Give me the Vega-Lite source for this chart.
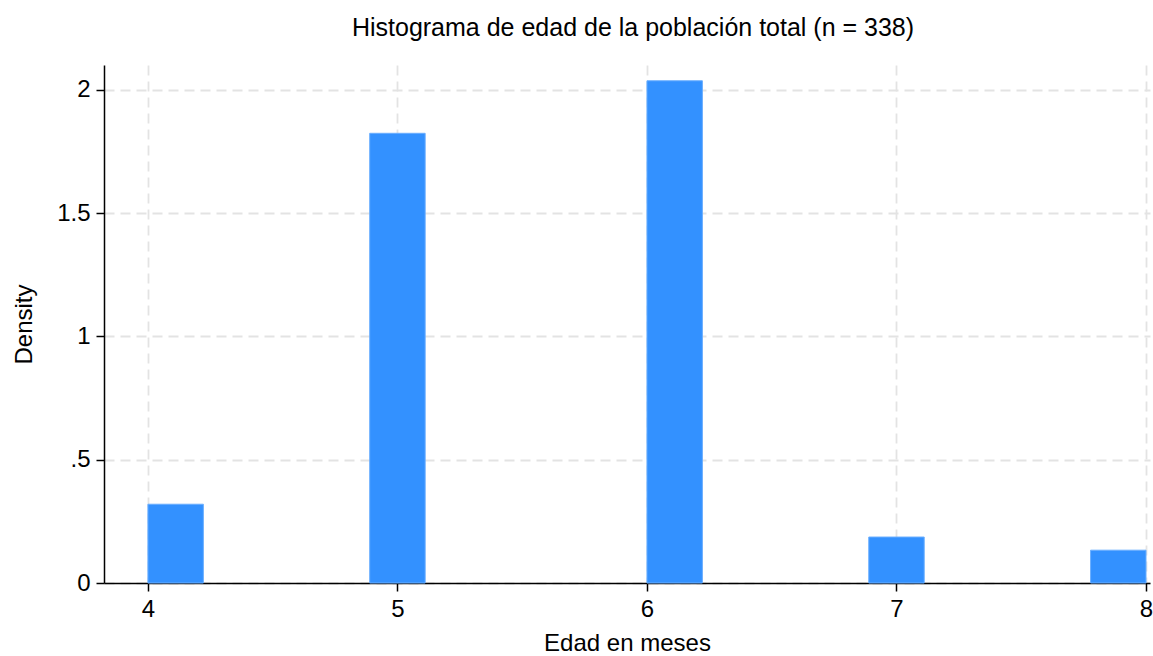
{
  "$schema": "https://vega.github.io/schema/vega-lite/v6.json",
  "width": 1046,
  "height": 518,
  "autosize": {"type": "none"},
  "padding": {"left": 104, "top": 65, "right": 3, "bottom": 73},
  "background": "white",
  "title": {
    "text": "Histograma de edad de la población total (n = 338)",
    "font": "Liberation Sans",
    "fontSize": 25,
    "fontWeight": "normal",
    "color": "#000000",
    "anchor": "middle",
    "offset": 24,
    "dx": 6
  },
  "config": {
    "view": {"stroke": null},
    "font": "Liberation Sans"
  },
  "data": {
    "values": [
      {"bin_start": 4.0, "bin_end": 4.2222, "density": 0.3195},
      {"bin_start": 4.8889, "bin_end": 5.1111, "density": 1.8240},
      {"bin_start": 6.0, "bin_end": 6.2222, "density": 2.0370},
      {"bin_start": 6.8889, "bin_end": 7.1111, "density": 0.1864},
      {"bin_start": 7.7778, "bin_end": 8.0, "density": 0.1331}
    ]
  },
  "mark": {"type": "bar", "fill": "#3391ff", "stroke": "#6aaeff", "strokeWidth": 1},
  "encoding": {
    "x": {
      "field": "bin_start",
      "type": "quantitative",
      "scale": {"domain": [3.824, 8.016], "nice": false, "zero": false},
      "axis": {
        "title": "Edad en meses",
        "values": [4, 5, 6, 7, 8],
        "format": "d",
        "labelFontSize": 24,
        "labelColor": "#000000",
        "labelPadding": 6,
        "titleFontSize": 24,
        "titleFontWeight": "normal",
        "titleColor": "#000000",
        "titlePadding": 10,
        "domainColor": "#000000",
        "domainWidth": 1.5,
        "tickColor": "#000000",
        "tickWidth": 1.5,
        "tickSize": 8,
        "grid": true,
        "gridColor": "#e3e3e3",
        "gridDash": [10, 6],
        "gridWidth": 1.8
      }
    },
    "x2": {"field": "bin_end"},
    "y": {
      "field": "density",
      "type": "quantitative",
      "scale": {"domain": [0, 2.101], "nice": false},
      "axis": {
        "title": "Density",
        "values": [0, 0.5, 1, 1.5, 2],
        "labelExpr": "datum.value == 0.5 ? '.5' : (datum.value == 1.5 ? '1.5' : format(datum.value, 'd'))",
        "labelFontSize": 24,
        "labelColor": "#000000",
        "labelPadding": 6,
        "titleFontSize": 24,
        "titleFontWeight": "normal",
        "titleColor": "#000000",
        "titlePadding": 20,
        "domainColor": "#000000",
        "domainWidth": 1.5,
        "tickColor": "#000000",
        "tickWidth": 1.5,
        "tickSize": 8,
        "grid": true,
        "gridColor": "#e3e3e3",
        "gridDash": [10, 6],
        "gridWidth": 1.8
      }
    },
    "y2": {"datum": 0}
  }
}
